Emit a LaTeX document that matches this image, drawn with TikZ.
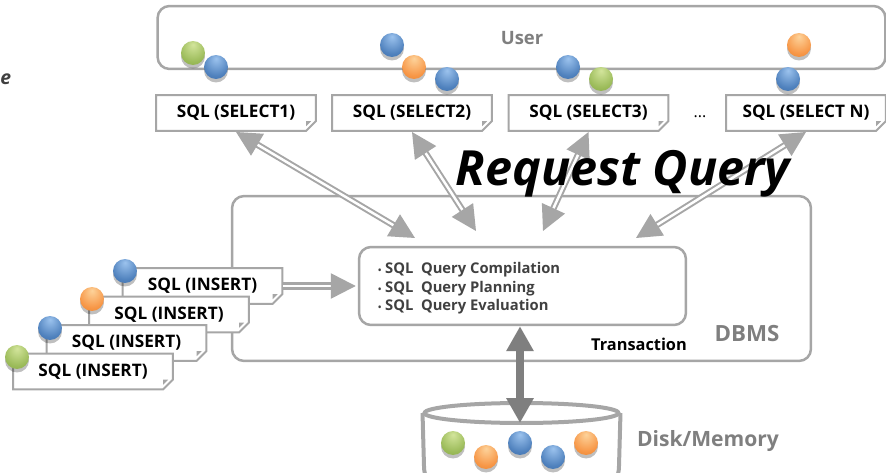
\documentclass[tikz,border=0pt]{standalone}
\usepackage{fontspec}
\usepackage{xcolor}
\usepackage{tikz}
\usetikzlibrary{arrows.meta,shapes.geometric,shapes.misc,shadows,positioning}
\setmainfont{Open Sans}
\tikzset{>=stealth}

\definecolor{sqlgray}{HTML}{A6A6A6}
\definecolor{labelgray}{HTML}{7F7F7F}
\definecolor{blueA}{HTML}{9CC3EE}
\definecolor{blueB}{HTML}{4F81BD}
\definecolor{blueC}{HTML}{2F5A92}
\definecolor{greenA}{HTML}{D3E59C}
\definecolor{greenB}{HTML}{9BBB59}
\definecolor{greenC}{HTML}{708F38}
\definecolor{orangeA}{HTML}{FDD39B}
\definecolor{orangeB}{HTML}{F79646}
\definecolor{orangeC}{HTML}{C8701F}
\pgfdeclareradialshading{blueball}{\pgfpoint{0bp}{18bp}}{color(0bp)=(blueA); color(28bp)=(blueB); color(60bp)=(blueC)}
\pgfdeclareradialshading{greenball}{\pgfpoint{0bp}{18bp}}{color(0bp)=(greenA); color(28bp)=(greenB); color(60bp)=(greenC)}
\pgfdeclareradialshading{orangeball}{\pgfpoint{0bp}{18bp}}{color(0bp)=(orangeA); color(28bp)=(orangeB); color(60bp)=(orangeC)}

\begin{document}
\begin{tikzpicture}[x=0.02cm,y=-0.02cm,
                          bigbox/.style={draw=sqlgray, line width=.05cm, rounded corners=.24cm, fill=white},
                          note/.style={chamfered rectangle, chamfered rectangle corners=south east, chamfered rectangle sep=.1cm,
                                       draw=sqlgray, line width=.04cm, fill=white, minimum width=3.2cm, minimum height=.72cm,
                                       inner sep=0pt, font=\fontsize{9.8}{10}\selectfont\bfseries},
                          dot/.style={circle, minimum size=.48cm, inner sep=0pt,
                                      drop shadow={shadow xshift=0cm, shadow yshift=-.07cm, opacity=.25, fill=black}},
                          bluedot/.style={dot, shade, shading=blueball},
                          greendot/.style={dot, shade, shading=greenball},
                          orangedot/.style={dot, shade, shading=orangeball},
                          request/.style={draw=sqlgray, line width=.04cm, double=white, double distance=.05cm,
                                          {Triangle[length=.5cm,width=.5cm]}-{Triangle[length=.5cm,width=.5cm]}},
                          insertarrow/.style={draw=sqlgray, line width=.05cm, double=white, double distance=.05cm,
                                          -{Triangle[length=.5cm,width=.5cm]}},
                          diskarrow/.style={draw=labelgray, line width=.16cm,
                                          {Triangle[length=.5cm,width=.52cm]}-{Triangle[length=.5cm,width=.52cm]}},
                          graylabel/.style={text=labelgray, font=\fontsize{12}{14}\selectfont\bfseries},
                         ]

\useasboundingbox (0,0) rectangle (886,473);

\node[text=black!75, font=\fontsize{11}{11}\selectfont\bfseries\itshape, anchor=west, inner sep=0pt] (cutoff) at (0,79) {e};

% user and dbms
\node[bigbox, minimum width=14.56cm, minimum height=1.26cm] (user) at (521.5,37.5) {};
\node[graylabel, font=\fontsize{10.5}{12}\selectfont\bfseries] (userlabel) at (522,38) {User};
\node[bigbox, minimum width=11.58cm, minimum height=3.3cm] (dbms) at (521.5,278.5) {};
\node[graylabel, font=\fontsize{12.7}{14}\selectfont\bfseries] (dbmslabel) at (747,334) {DBMS};

\node[bigbox, minimum width=6.54cm, minimum height=1.56cm, align=left, text=black!75, inner sep=0pt,
      font=\fontsize{8.4}{10.5}\selectfont\bfseries] (query) at (522.5,286)
      {\parbox{5.78cm}{\vspace{.1cm}{\tiny\textbullet}\ SQL\ \ Query Compilation\\ {\tiny\textbullet}\ SQL\ \ Query Planning\\ {\tiny\textbullet}\ SQL\ \ Query Evaluation}};
\node[font=\fontsize{9.3}{10}\selectfont\bfseries] (translabel) at (639,344) {Transaction};

% select notes
\node[note] (sel1) at (236,113) {SQL (SELECT1)};
\node[note] (sel2) at (412,113) {SQL (SELECT2)};
\node[note] (sel3) at (588.5,113) {SQL (SELECT3)};
\node[note] (seln) at (806,113) {SQL (SELECT N)};
\node[font=\fontsize{9}{10}\selectfont] (more) at (700,117) {...};

% insert notes
\node[note] (ins1) at (202.5,286) {SQL (INSERT)};
\node[note] (ins2) at (169,314.5) {SQL (INSERT)};
\node[note] (ins3) at (126.5,343) {SQL (INSERT)};
\node[note] (ins4) at (93,371.5) {SQL (INSERT)};

\foreach \n in {sel1,sel2,sel3,seln,ins1,ins2,ins3,ins4}{
  \fill[sqlgray] ([xshift=-.11cm,yshift=.01cm]\n.south east) -- ([xshift=-.01cm,yshift=.11cm]\n.south east) -- ([xshift=-.11cm,yshift=.11cm]\n.south east) -- cycle;
}

% disk
\node[draw=sqlgray, line width=.08cm, ellipse, minimum width=3.88cm, minimum height=.4cm, inner sep=0pt] (disktop) at (521.5,413) {};
\draw[draw=sqlgray, line width=.08cm] (disktop.west) -- (424,466) to[out=-90,in=180] (521.5,482) to[out=0,in=-90] (619,466) -- (disktop.east);
\node[graylabel] (disklabel) at (708,441) {Disk/Memory};

% arrows
\coordinate (in1) at (415,238);
\coordinate (in2) at (476,231);
\coordinate (in3) at (543,231);
\coordinate (inn) at (636,238);
\draw[request] (sel1.south) -- (in1);
\draw[request] (sel2.south) -- (in2);
\draw[request] (sel3.south) -- (in3);
\draw[request] (seln.south) -- (inn);
\draw[insertarrow] (ins1.east) -- ([xshift=-.04cm]query.west);
\draw[diskarrow] ([xshift=-.05cm]query.south) -- ([xshift=-.03cm,yshift=.04cm]disktop.south);

\node[font=\fontsize{27.6}{28}\selectfont\bfseries\itshape] (reqlabel) at (623,174) {Request Query};

% balls
\node[greendot] (b1) at (193,53) {};
\node[bluedot] (b2) at (216,67) {};
\node[bluedot] (b3) at (392,45) {};
\node[orangedot] (b4) at (414,67) {};
\node[bluedot] (b5) at (447,79) {};
\node[bluedot] (b6) at (568,67) {};
\node[greendot] (b7) at (601,79) {};
\node[orangedot] (b8) at (799,45) {};
\node[bluedot] (b9) at (788,79) {};

\node[bluedot] (i1) at (125,271) {};
\node[orangedot] (i2) at (92,299) {};
\node[bluedot] (i3) at (50,328) {};
\node[greendot] (i4) at (17,357) {};

\node[greendot] (d1) at (453,443) {};
\node[orangedot] (d2) at (486,457) {};
\node[bluedot] (d3) at (520,443) {};
\node[bluedot] (d4) at (553,457) {};
\node[orangedot] (d5) at (586,443) {};

\end{tikzpicture}
\end{document}
